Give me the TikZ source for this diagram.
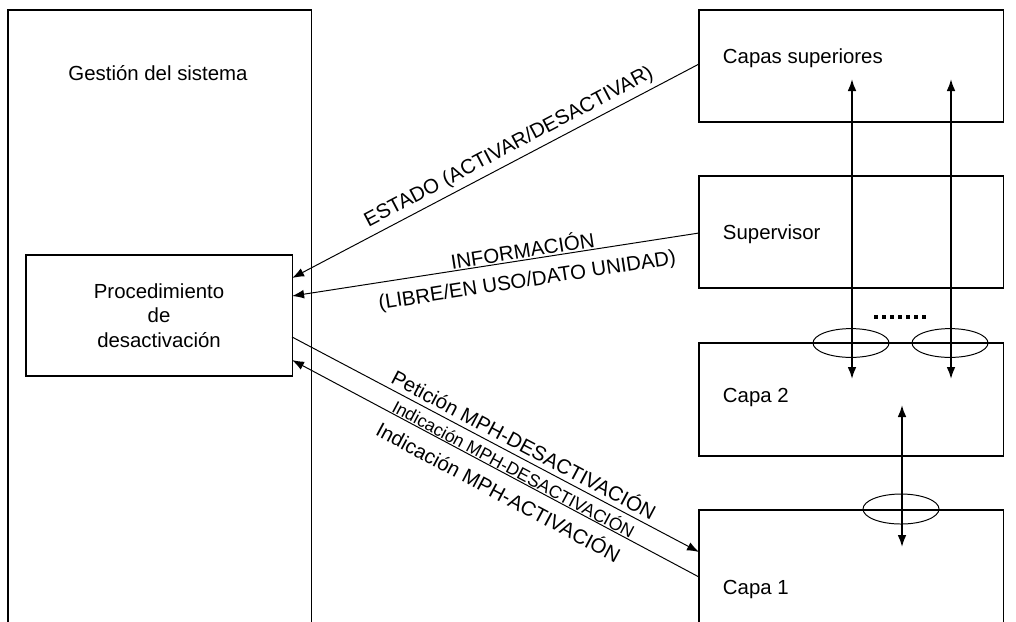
\documentclass[tikz,border=0pt]{standalone}
\usepackage{fontspec}
\setmainfont{Liberation Sans}
\usetikzlibrary{positioning, calc, arrows.meta, shapes.geometric}
\tikzset{
    bloque/.style={rectangle, draw, line width=0.8pt, inner sep=0pt, outer sep=0pt, anchor=north west},
    rotulo/.style={font=\fontsize{14.5}{17.4}\selectfont, align=center},
    chico/.style={font=\fontsize{12.5}{15}\selectfont},
    flecha/.style={-{Latex[length=3mm, width=2.2mm]}, line width=0.7pt},
    retorno/.style={{Latex[length=3mm, width=2.2mm]}-, line width=0.7pt},
    doble/.style={{Latex[length=3mm, width=2.2mm]}-{Latex[length=3mm, width=2.2mm]}, line width=1.3pt},
    anillo/.style={ellipse, draw, line width=0.7pt, minimum width=1.9cm, minimum height=0.72cm, inner sep=0pt},
}
\begin{document}
\begin{tikzpicture}[x=0.025cm, y=-0.025cm]
\useasboundingbox (0,0) rectangle (1016,621);

% Gestion del sistema
\node[bloque, minimum width=7.575cm, minimum height=16cm] (gestion) at (8,10) {};
\node[rotulo] (tgestion) at (158,73) {Gestión del sistema};
\node[bloque, minimum width=6.65cm, minimum height=3.025cm] (proc) at (26,255) {};
\node[rotulo] (tproc) at (proc.center) {Procedimiento\\de\\desactivación};

% Capas de la derecha
\node[bloque, minimum width=7.6cm, minimum height=2.8cm] (capsup) at (699,10) {};
\node[rotulo, anchor=west] (tcapsup) at (718,58) {Capas superiores};
\node[bloque, minimum width=7.6cm, minimum height=2.8cm] (superv) at (699,176) {};
\node[rotulo, anchor=west] (tsuperv) at (718,234) {Supervisor};
\node[bloque, minimum width=7.6cm, minimum height=2.825cm] (capa2) at (699,343) {};
\node[rotulo, anchor=west] (tcapa2) at (718,397) {Capa 2};
\node[bloque, minimum width=7.6cm, minimum height=4cm] (capa1) at (699,510) {};
\node[rotulo, anchor=west] (tcapa1) at (718,589) {Capa 1};

% Flechas hacia el procedimiento
\draw[retorno] (proc.east |- 0,278) -- (capsup.west |- 0,64)
    node[rotulo, pos=0.55, sloped, above] {ESTADO (ACTIVAR/DESACTIVAR)};
\draw[retorno] (proc.east |- 0,296) -- (superv.west |- 0,233)
    node[rotulo, pos=0.57, sloped, above, inner sep=1pt] {INFORMACIÓN}
    node[rotulo, pos=0.57, sloped, below=5pt] {(LIBRE/EN USO/DATO UNIDAD)};

% Primitivas MPH
\draw[flecha] (proc.east |- 0,337) -- (capa1.west |- 0,552)
    node[rotulo, pos=0.555, sloped, above] {Petición MPH-DESACTIVACIÓN};
\draw[retorno] (proc.east |- 0,360) -- (capa1.west |- 0,577)
    node[chico, pos=0.535, sloped, above, inner sep=0.5pt] {Indicación MPH-DESACTIVACIÓN}
    node[rotulo, pos=0.53, sloped, below=3pt] {Indicación MPH-ACTIVACIÓN};

% Puntos de acceso entre capas
\node[anillo] (sap1) at (851,343) {};
\node[anillo] (sap2) at (950,343) {};
\node[anillo, minimum height=0.75cm] (sap3) at (901,509) {};
\draw[line width=0.1cm, dash pattern=on 0.1cm off 0.1cm] (874,317) -- (926,317);

\coordinate (s1) at (852,79);
\coordinate (i1) at (852,379);
\coordinate (s2) at (951,79);
\coordinate (i2) at (951,379);
\coordinate (s3) at (902,405);
\coordinate (i3) at (902,547);
\draw[doble] (s1) -- (i1);
\draw[doble] (s2) -- (i2);
\draw[doble] (s3) -- (i3);

\end{tikzpicture}
\end{document}
